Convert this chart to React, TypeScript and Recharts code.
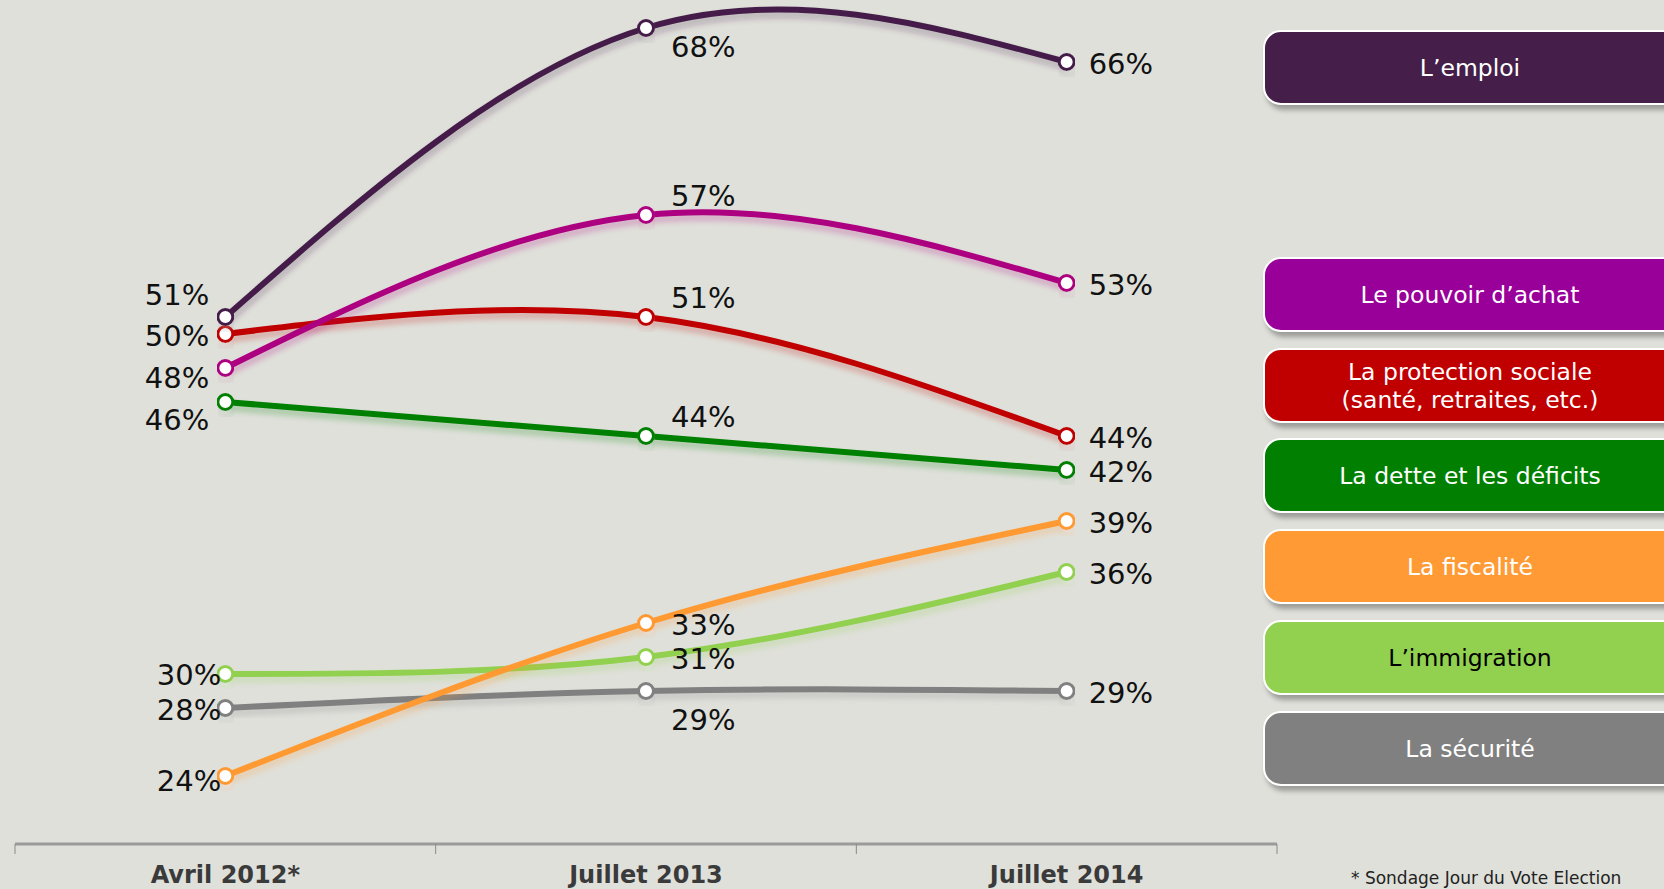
import { ComposedChart, Line, XAxis, YAxis, LabelList } from 'recharts';

const periods = ['Avril 2012*', 'Juillet 2013', 'Juillet 2014'];
const emploi = [51, 68, 66];
const pouvoirAchat = [48, 57, 53];
const protectionSociale = [50, 51, 44];
const detteDeficits = [46, 44, 42];
const fiscalite = [24, 33, 39];
const immigration = [30, 31, 36];
const securite = [28, 29, 29];

// label offsets [dx, dy] per point, relative to the marker
const series = [
  { key: 'securite', name: 'La sécurité', values: securite, line: '#808080', box: '#808080', text: '#fff', top: 711,
    offs: [[-4, 2], [25, 29], [22, 2]] },
  { key: 'immigration', name: 'L’immigration', values: immigration, line: '#92d050', box: '#92d050', text: '#000', top: 620,
    offs: [[-4, 1], [25, 2], [22, 2]] },
  { key: 'fiscalite', name: 'La fiscalité', values: fiscalite, line: '#ff9933', box: '#ff9a35', text: '#fff', top: 529,
    offs: [[-4, 5], [25, 2], [22, 2]] },
  { key: 'dette', name: 'La dette et les déficits', values: detteDeficits, line: '#008000', box: '#007f00', text: '#fff', top: 438,
    offs: [[-16, 18], [25, -19], [22, 2]] },
  { key: 'protection', name: 'La protection sociale\n(santé, retraites, etc.)', values: protectionSociale, line: '#c00000', box: '#c00000', text: '#fff', top: 348,
    offs: [[-16, 2], [25, -19], [22, 2]] },
  { key: 'pouvoir', name: 'Le pouvoir d’achat', values: pouvoirAchat, line: '#ad0680', box: '#990099', text: '#fff', top: 257,
    offs: [[-16, 10], [25, -19], [22, 2]] },
  { key: 'emploi', name: 'L’emploi', values: emploi, line: '#451f4a', box: '#451f49', text: '#fff', top: 30,
    offs: [[-16, -22], [25, 19], [22, 2]] },
];

const data = periods.map((period, i) => {
  const row: Record<string, string | number> = { period };
  series.forEach(s => { row[s.key] = s.values[i]; });
  return row;
});

const FONT = '"DejaVu Sans", Verdana, sans-serif';
const TICK_SIZE = 8;
const TICK_MARGIN = 14;

const pointLabel = (offs: number[][]) => (props: any) => {
  const { x, y, value, index } = props;
  const [dx, dy] = offs[index];
  return (
    <text
      x={x + dx}
      y={y + dy}
      textAnchor={index === 0 ? 'end' : 'start'}
      dominantBaseline="central"
      fontSize={29}
      fontFamily={FONT}
      fill="#111"
    >
      {value}%
    </text>
  );
};

// category label plus tick marks on the band boundaries
const PeriodTick = (props: any) => {
  const { x, y, payload, visibleTicksCount } = props;
  const half = payload.offset || 0;
  const axisY = y - TICK_SIZE - TICK_MARGIN;
  const isLast = payload.index === visibleTicksCount - 1;
  return (
    <g>
      <line x1={x - half} x2={x - half} y1={axisY} y2={axisY + 10} stroke="#8a8a8a" strokeWidth={1} />
      {isLast && <line x1={x + half} x2={x + half} y1={axisY} y2={axisY + 10} stroke="#8a8a8a" strokeWidth={1} />}
      <text x={x} y={y} dy="0.71em" textAnchor="middle" fill="#3a3a3a" fontSize={24} fontWeight="bold" fontFamily={FONT}>
        {payload.value}
      </text>
    </g>
  );
};

export default function App() {
  return (
    <div style={{ position: 'absolute', left: 0, top: 0, width: 1664, height: 889, background: '#dfe0da', overflow: 'hidden' }}>
      <ComposedChart width={1290} height={889} data={data} margin={{ top: 28, right: 13, left: 15, bottom: 0 }}>
        <defs>
          <filter id="lineGlow" x="-5%" y="-30%" width="110%" height="180%">
            <feGaussianBlur in="SourceGraphic" stdDeviation="3" result="blur" />
            <feOffset in="blur" dx="1" dy="5" result="off" />
            <feComponentTransfer in="off" result="soft">
              <feFuncA type="linear" slope="0.3" />
            </feComponentTransfer>
            <feMerge>
              <feMergeNode in="soft" />
              <feMergeNode in="SourceGraphic" />
            </feMerge>
          </filter>
        </defs>
        <XAxis
          dataKey="period"
          scale="band"
          interval={0}
          height={45}
          axisLine={{ stroke: '#9b9b9b', strokeWidth: 3 }}
          tickLine={false}
          tickSize={TICK_SIZE}
          tickMargin={TICK_MARGIN}
          tick={<PeriodTick />}
        />
        <YAxis hide domain={[20, 68]} />
        {series.map(s => (
          <Line
            key={s.key}
            dataKey={s.key}
            name={s.name}
            type="natural"
            stroke={s.line}
            strokeWidth={6}
            filter="url(#lineGlow)"
            dot={{ r: 7.5, fill: '#fff', stroke: s.line, strokeWidth: 3 }}
            activeDot={false}
            isAnimationActive={false}
          >
            <LabelList dataKey={s.key} content={pointLabel(s.offs)} />
          </Line>
        ))}
      </ComposedChart>

      {series.map(s => (
        <div
          key={s.key}
          style={{
            position: 'absolute',
            left: 1263,
            top: s.top,
            width: 410,
            height: 71,
            boxSizing: 'content-box',
            background: s.box,
            border: '2px solid #fff',
            borderRadius: 18,
            boxShadow: '3px 5px 5px rgba(0,0,0,0.3)',
            color: s.text,
            fontFamily: FONT,
            fontSize: 23.5,
            lineHeight: '28px',
            display: 'flex',
            alignItems: 'center',
            justifyContent: 'center',
            textAlign: 'center',
            whiteSpace: 'pre-line',
            paddingRight: 18,
          }}
        >
          {s.name}
        </div>
      ))}

      <div style={{ position: 'absolute', left: 1351, top: 868, fontFamily: FONT, fontSize: 17, color: '#222', whiteSpace: 'nowrap' }}>
        * Sondage Jour du Vote Election
      </div>
    </div>
  );
}
